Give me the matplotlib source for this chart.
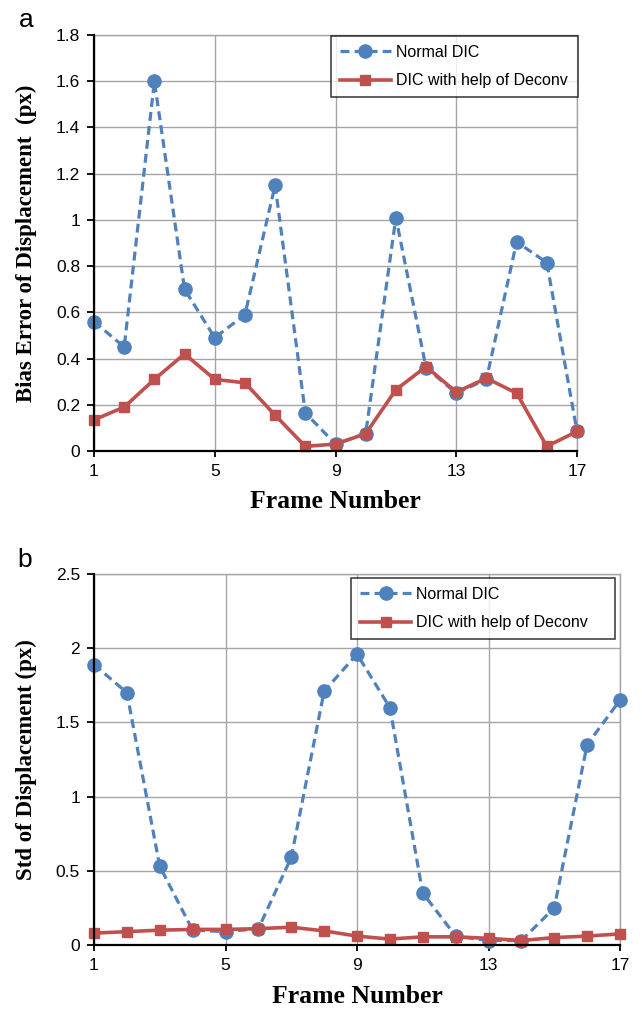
import matplotlib
matplotlib.use("Agg")
import matplotlib.pyplot as plt

# Frame indices shared by both panels
frames = list(range(1, 18))

# Panel (a): bias error of displacement (px)
bias_normal = [0.56, 0.45, 1.60, 0.70, 0.49, 0.59, 1.15, 0.165, 0.03,
               0.075, 1.01, 0.36, 0.25, 0.31, 0.905, 0.815, 0.085]
bias_deconv = [0.135, 0.19, 0.31, 0.42, 0.31, 0.295, 0.155, 0.02, 0.03,
               0.075, 0.265, 0.365, 0.255, 0.315, 0.25, 0.02, 0.085]

# Panel (b): standard deviation of displacement (px)
std_normal = [1.89, 1.70, 0.53, 0.10, 0.09, 0.11, 0.59, 1.71, 1.96,
              1.60, 0.35, 0.06, 0.03, 0.03, 0.25, 1.35, 1.65]
std_deconv = [0.08, 0.09, 0.10, 0.105, 0.105, 0.11, 0.12, 0.095, 0.06,
              0.04, 0.055, 0.055, 0.045, 0.03, 0.05, 0.06, 0.075]

series_names = ["Normal DIC", "DIC with help of Deconv"]
x_ticks = [1, 5, 9, 13, 17]
bias_ticks = [0, 0.2, 0.4, 0.6, 0.8, 1, 1.2, 1.4, 1.6, 1.8]
std_ticks = [0, 0.5, 1, 1.5, 2, 2.5]

BLUE = "#4F81BD"
RED = "#C0504D"
GRID = "#A5A5A5"
SANS = ["Liberation Sans", "DejaVu Sans"]
SERIF = ["Liberation Serif", "DejaVu Serif"]

fig = plt.figure(figsize=(6.42, 10.11), dpi=100)

W, H = 642.0, 1011.0


def px_axes(x0, x1, ytop, ybot):
    return fig.add_axes([x0 / W, 1 - ybot / H, (x1 - x0) / W, (ybot - ytop) / H])


def style_panel(ax, yticks, ylabel, legend_box):
    ax.set_xlim(1, 17)
    ax.set_ylim(0, yticks[-1])
    ax.set_xticks(x_ticks)
    ax.set_yticks(yticks)
    ax.set_xticklabels([str(v) for v in x_ticks], family=SANS, fontsize=12.5)
    ax.set_yticklabels(["%g" % v for v in yticks], family=SANS, fontsize=12.5)
    ax.grid(True, color=GRID, linewidth=1.0)
    ax.set_axisbelow(True)
    for side in ("top", "right"):
        ax.spines[side].set_color(GRID)
        ax.spines[side].set_linewidth(1.0)
    for side in ("left", "bottom"):
        ax.spines[side].set_color("black")
        ax.spines[side].set_linewidth(1.6)
        ax.spines[side].set_zorder(5)
    ax.tick_params(axis="y", direction="out", length=5, width=1.3, pad=5)
    ax.tick_params(axis="x", direction="out", length=4, width=1.3, pad=5)
    ax.set_xlabel("Frame Number", family=SERIF, fontweight="bold", fontsize=18.5)
    ax.set_ylabel(ylabel, family=SERIF, fontweight="bold", fontsize=16.5)
    leg = ax.legend(loc="upper left", bbox_to_anchor=legend_box,
                    mode="expand", frameon=True, fancybox=False,
                    prop={"family": SANS, "size": 11.5},
                    handlelength=3.2, handletextpad=0.3, borderpad=0.55,
                    labelspacing=0.85, borderaxespad=0, numpoints=1)
    leg.get_frame().set_edgecolor("black")
    leg.get_frame().set_linewidth(1.1)
    leg.set_zorder(10)


def draw_series(ax, normal, deconv):
    ax.plot(frames, normal, color=BLUE, linestyle=(0, (2.8, 1.6)), linewidth=2.3,
            marker="o", markersize=9.5, markerfacecolor=BLUE, markeredgecolor=BLUE,
            label=series_names[0], clip_on=False, zorder=3)
    ax.plot(frames, deconv, color=RED, linestyle="-", linewidth=2.6,
            marker="s", markersize=7.5, markerfacecolor=RED, markeredgecolor=RED,
            label=series_names[1], clip_on=False, zorder=4)


# Panel (a)
ax1 = px_axes(94, 577, 35, 451)
draw_series(ax1, bias_normal, bias_deconv)
style_panel(ax1, bias_ticks, "Bias Error of Displacement  (px)",
            (0.491, 0.861, 0.511, 0.137))
ax1.xaxis.set_label_coords(0.5, -0.094)
ax1.yaxis.set_label_coords(-0.118, 0.5)
fig.text(19 / W, 1 - 27 / H, "a", family=SANS, fontsize=19, ha="left", va="baseline")

# Panel (b)
ax2 = px_axes(94, 620, 574, 945)
draw_series(ax2, std_normal, std_deconv)
style_panel(ax2, std_ticks, "Std of Displacement (px)",
            (0.489, 0.817, 0.501, 0.172))
ax2.xaxis.set_label_coords(0.5, -0.108)
ax2.yaxis.set_label_coords(-0.108, 0.5)
fig.text(17 / W, 1 - 567 / H, "b", family=SANS, fontsize=19, ha="left", va="baseline")

fig.savefig("out.png", dpi=100)
